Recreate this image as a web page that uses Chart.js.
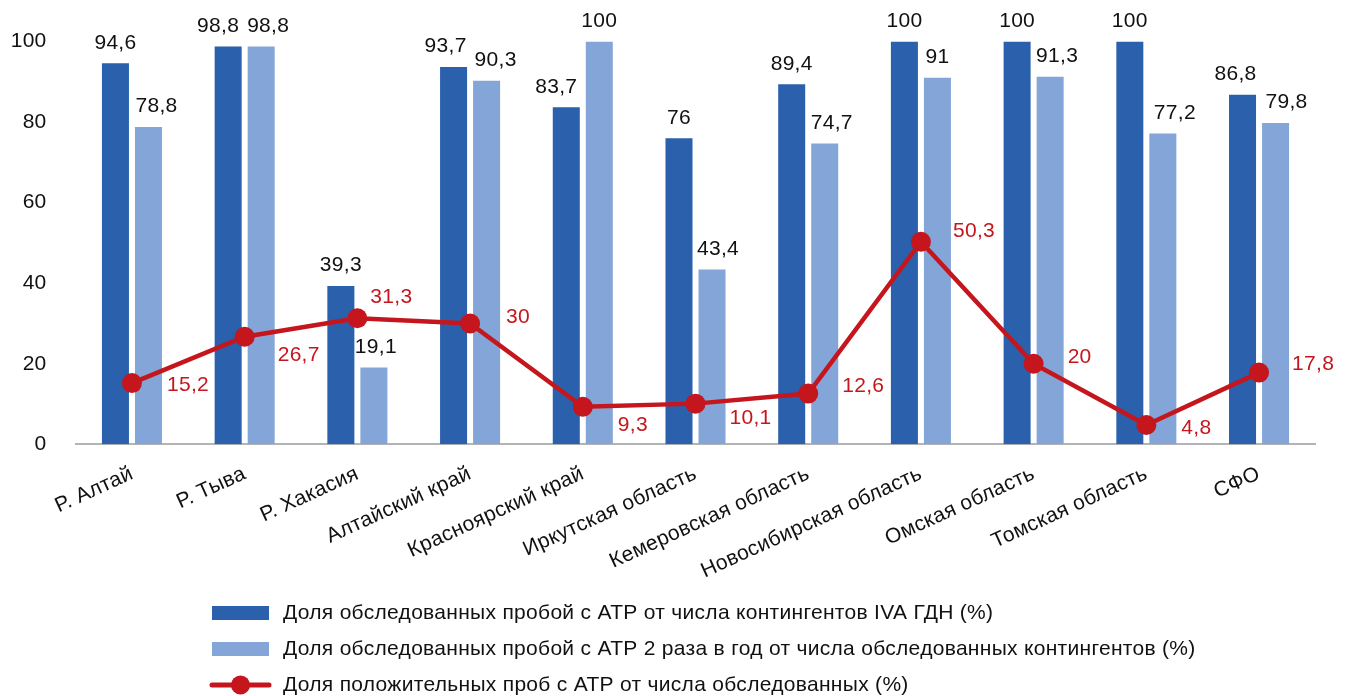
<!DOCTYPE html>
<html lang="ru">
<head>
<meta charset="utf-8">
<title>Обследование на АТР, СФО</title>
<script src="https://cdn.jsdelivr.net/npm/chart.js@4/dist/chart.umd.min.js"></script>
<style>
  html, body { margin: 0; padding: 0; background: #ffffff; }
  #wrap { width: 1348px; height: 696px; position: relative; }
</style>
</head>
<body>
<div id="wrap"><canvas id="chart" width="1348" height="696"></canvas></div>
<script>
// Регионы СФО
const regions = [
  'Р. Алтай', 'Р. Тыва', 'Р. Хакасия', 'Алтайский край', 'Красноярский край',
  'Иркутская область', 'Кемеровская область', 'Новосибирская область',
  'Омская область', 'Томская область', 'СФО'
];

// Доля обследованных пробой с АТР от числа контингентов IVA ГДН (%)
const shareExamined = [94.6, 98.8, 39.3, 93.7, 83.7, 76, 89.4, 100, 100, 100, 86.8];

// Доля обследованных пробой с АТР 2 раза в год (%)
const shareTwiceYear = [78.8, 98.8, 19.1, 90.3, 100, 43.4, 74.7, 91, 91.3, 77.2, 79.8];

// Доля положительных проб с АТР (%)
const sharePositive = [15.2, 26.7, 31.3, 30, 9.3, 10.1, 12.6, 50.3, 20, 4.8, 17.8];

// Деления оси значений
const yTicks = [0, 20, 40, 60, 80, 100];

const seriesNames = [
  'Доля обследованных пробой с АТР от числа контингентов IVA ГДН (%)',
  'Доля обследованных пробой с АТР 2 раза в год от числа обследованных контингентов (%)',
  'Доля положительных проб с АТР от числа обследованных (%)'
];

const COLORS = { dark: '#2A60AC', light: '#84A5D7', red: '#C4161C', text: '#111111' };
const FONT = '"Liberation Sans", Arial, Helvetica, sans-serif';
const FONT_SIZE = 21;
const TRACKING = '0.3px';

// Горизонтальный сдвиг подписей столбиков, чтобы соседние не наезжали (px)
const darkLabelShift  = [0, -10, 0, -8, -10, 0, 0, 0, 0, 0, -7];
const lightLabelShift = [8, 7, 2, 9, 0, 6, 7, 0, 7, 12, 11];

// Сдвиг подписей линии относительно точки (px)
const lineLabelShift = [
  [35, 2], [33, 18], [13, -21], [36, -6], [35, 18], [34, 15],
  [34, -7], [32, -11], [34, -7], [35, 3], [33, -8]
];

const fmt = v => String(v).replace('.', ',');

// Межбуквенный интервал для всего текста на холсте
const tracking = {
  id: 'tracking',
  beforeUpdate(chart) { chart.ctx.letterSpacing = TRACKING; },
  beforeDraw(chart) { chart.ctx.letterSpacing = TRACKING; }
};

// Подписи значений над столбиками и у точек линии
const valueLabels = {
  id: 'valueLabels',
  afterDatasetsDraw(chart) {
    const ctx = chart.ctx;
    ctx.save();
    ctx.font = FONT_SIZE + 'px ' + FONT;
    ctx.textBaseline = 'middle';
    chart.data.datasets.forEach((ds, di) => {
      const meta = chart.getDatasetMeta(di);
      meta.data.forEach((el, i) => {
        const v = ds.data[i];
        if (ds.type === 'line') {
          const [dx, dy] = lineLabelShift[i];
          ctx.fillStyle = COLORS.red;
          ctx.textAlign = 'left';
          ctx.fillText(fmt(v), el.x + dx, el.y + dy);
        } else {
          const shift = di === 0 ? darkLabelShift[i] : lightLabelShift[i];
          ctx.fillStyle = COLORS.text;
          ctx.textAlign = 'center';
          ctx.fillText(fmt(v), el.x + shift, el.y - 20.5);
        }
      });
    });
    ctx.restore();
  }
};

// Легенда столбцом под графиком
const columnLegend = {
  id: 'columnLegend',
  afterDraw(chart) {
    const ctx = chart.ctx;
    const x0 = 212, boxW = 57, textX = 283;
    const rows = [613, 649, 685];
    ctx.save();
    ctx.font = FONT_SIZE + 'px ' + FONT;
    ctx.textBaseline = 'middle';
    ctx.textAlign = 'left';
    chart.data.datasets.forEach((ds, i) => {
      const y = rows[i];
      if (ds.type === 'line') {
        ctx.strokeStyle = ds.borderColor;
        ctx.lineWidth = 5;
        ctx.lineCap = 'round';
        ctx.beginPath();
        ctx.moveTo(x0, y);
        ctx.lineTo(x0 + boxW, y);
        ctx.stroke();
        ctx.fillStyle = ds.pointBackgroundColor;
        ctx.beginPath();
        ctx.arc(x0 + boxW / 2, y, 9.5, 0, Math.PI * 2);
        ctx.fill();
      } else {
        ctx.fillStyle = ds.backgroundColor;
        ctx.fillRect(x0, y - 7, boxW, 14);
      }
      ctx.fillStyle = COLORS.text;
      ctx.fillText(ds.label, textX, y);
    });
    ctx.restore();
  }
};

new Chart(document.getElementById('chart'), {
  data: {
    labels: regions,
    datasets: [
      {
        type: 'bar', label: seriesNames[0], data: shareExamined,
        backgroundColor: COLORS.dark, order: 2,
        categoryPercentage: 0.586, barPercentage: 0.818
      },
      {
        type: 'bar', label: seriesNames[1], data: shareTwiceYear,
        backgroundColor: COLORS.light, order: 2,
        categoryPercentage: 0.586, barPercentage: 0.818
      },
      {
        type: 'line', label: seriesNames[2], data: sharePositive,
        borderColor: COLORS.red, borderWidth: 4.5,
        pointBackgroundColor: COLORS.red, pointBorderWidth: 0,
        pointRadius: 10, pointHoverRadius: 10, tension: 0, order: 1
      }
    ]
  },
  options: {
    responsive: false,
    animation: false,
    devicePixelRatio: 1,
    layout: { padding: { top: 39, right: 32.6, bottom: 0, left: 0 } },
    plugins: {
      legend: { display: false },
      tooltip: { enabled: false }
    },
    scales: {
      x: {
        offset: true,
        grid: { display: false, drawTicks: false },
        border: { display: true, color: '#B4B4B4', width: 2 },
        ticks: {
          color: COLORS.text,
          font: { family: FONT, size: FONT_SIZE },
          maxRotation: 24.5, minRotation: 24.5,
          padding: 17, autoSkip: false
        },
        afterFit(scale) { scale.height = 251.7; }
      },
      y: {
        min: 0, max: 100,
        grid: { display: false, drawTicks: false },
        border: { display: false },
        afterBuildTicks(scale) { scale.ticks = yTicks.map(v => ({ value: v })); },
        ticks: {
          color: COLORS.text,
          font: { family: FONT, size: FONT_SIZE },
          padding: 29
        },
        afterFit(scale) { scale.width = 75.6; }
      }
    }
  },
  plugins: [tracking, valueLabels, columnLegend]
});
</script>
</body>
</html>
